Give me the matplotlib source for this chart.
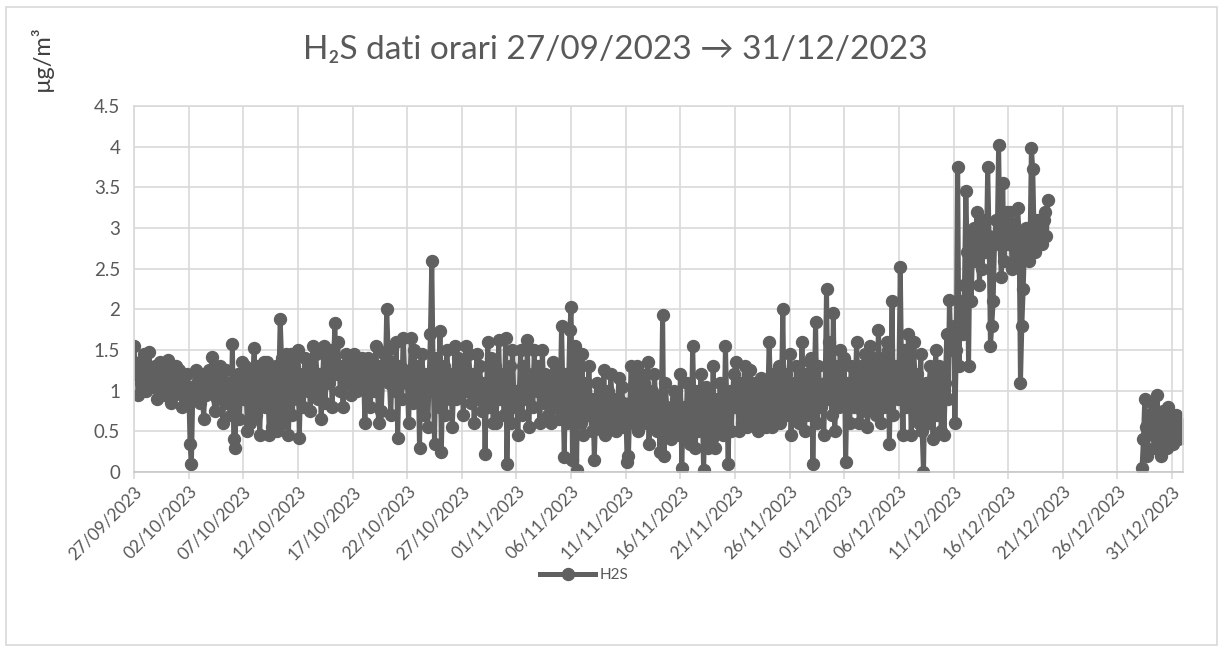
"""H2S hourly concentrations, 27/09/2023 - 31/12/2023."""

import numpy as np
import pandas as pd
import matplotlib

matplotlib.use("Agg")
import matplotlib.pyplot as plt
import matplotlib.dates as mdates
from matplotlib.patches import Rectangle

plt.rcParams["font.family"] = ["Lato", "DejaVu Sans"]

# readings in µg/m³, one row per day, every 3 hours (00, 03, ... 21)
h2s_sep = [
    [1.55, 1.20, 1.30, 0.95, 1.35, 1.10, 1.25, 1.45],  # 27/09
    [1.30, 1.00, 1.20, 1.48, 1.15, 1.05, 1.25, 1.30],
    [1.20, 0.90, 1.10, 1.35, 1.00, 1.25, 1.05, 0.95],
    [1.10, 1.38, 1.05, 0.85, 1.20, 0.95, 1.10, 1.30],
]
h2s_oct = [
    [1.00, 1.25, 1.05, 0.80, 1.15, 0.90, 1.05, 1.20],  # 01/10
    [1.05, 0.35, 0.10, 0.95, 0.90, 1.25, 1.10, 1.00],
    [0.85, 1.20, 1.00, 0.65, 1.10, 0.95, 1.05, 1.25],
    [1.00, 1.42, 1.10, 0.75, 1.20, 0.90, 1.05, 1.30],
    [1.15, 0.60, 1.00, 1.25, 0.85, 1.10, 0.95, 0.70],
    [1.57, 0.40, 0.30, 1.05, 1.20, 0.65, 1.00, 1.35],
    [0.90, 1.30, 1.05, 0.50, 1.10, 0.60, 1.00, 1.20],
    [1.52, 0.70, 1.10, 1.30, 0.45, 1.00, 1.15, 1.35],
    [0.80, 1.35, 1.05, 0.45, 1.20, 0.55, 1.00, 1.10],
    [1.30, 0.50, 1.10, 1.88, 1.40, 0.60, 1.15, 1.45],  # 10/10
    [1.10, 0.45, 1.00, 1.45, 0.70, 1.30, 1.15, 0.90],
    [1.50, 0.42, 1.10, 1.20, 0.80, 1.40, 1.15, 1.00],
    [1.30, 0.75, 1.15, 1.55, 1.00, 1.45, 1.20, 0.90],
    [1.20, 0.65, 1.10, 1.55, 0.85, 1.40, 1.25, 1.10],
    [1.50, 0.80, 1.25, 1.83, 1.20, 1.60, 1.30, 1.00],
    [1.30, 0.80, 1.20, 1.45, 1.10, 1.35, 1.15, 0.95],
    [1.20, 1.45, 1.25, 1.00, 1.35, 1.10, 1.30, 1.40],
    [1.25, 0.60, 1.15, 1.40, 1.10, 0.80, 1.20, 1.30],
    [1.00, 1.55, 1.20, 0.60, 1.30, 0.75, 1.15, 1.45],
    [1.20, 2.00, 1.50, 1.10, 0.70, 1.35, 1.20, 1.00],  # 20/10
    [1.60, 0.42, 1.15, 1.30, 0.90, 1.65, 1.25, 1.10],
    [1.20, 0.60, 1.10, 1.65, 0.85, 1.50, 1.20, 1.00],
    [1.30, 0.30, 1.05, 1.45, 0.70, 1.20, 1.00, 0.55],
    [1.10, 1.70, 2.60, 1.20, 0.35, 1.40, 1.05, 0.80],
    [1.73, 0.25, 1.10, 1.30, 0.70, 1.50, 1.15, 0.90],
    [1.20, 0.55, 1.05, 1.55, 0.90, 1.40, 1.15, 1.00],
    [1.30, 0.70, 1.10, 1.55, 1.00, 1.45, 1.20, 0.85],
    [1.20, 0.60, 1.05, 1.45, 0.90, 1.30, 1.10, 0.75],
    [1.10, 0.22, 0.95, 1.60, 0.80, 1.40, 1.00, 0.60],
    [1.30, 0.60, 1.00, 1.62, 0.90, 1.20, 1.05, 0.70],  # 30/10
    [1.65, 0.10, 0.95, 1.30, 0.60, 1.50, 1.00, 0.80],
]
h2s_nov = [
    [1.00, 0.45, 0.95, 1.50, 0.70, 1.30, 1.00, 0.90],  # 01/11
    [1.62, 0.55, 1.00, 1.20, 0.80, 1.50, 1.05, 1.00],
    [1.30, 0.60, 1.00, 1.50, 0.85, 1.20, 0.95, 0.70],
    [1.10, 0.60, 0.95, 1.35, 0.80, 1.25, 0.90, 0.65],
    [0.90, 1.80, 1.00, 0.18, 1.20, 0.60, 0.95, 1.75],
    [2.03, 0.15, 1.00, 1.55, 0.02, 1.45, 0.85, 0.60],
    [1.45, 0.45, 0.90, 1.10, 0.70, 1.30, 0.85, 0.50],
    [0.90, 0.15, 0.75, 1.10, 0.60, 1.00, 0.80, 0.50],
    [1.25, 0.45, 0.85, 1.00, 0.60, 1.20, 0.90, 0.70],
    [0.90, 0.50, 0.80, 1.15, 0.65, 1.05, 0.85, 0.55],  # 10/11
    [0.80, 0.12, 0.20, 0.85, 1.30, 0.60, 0.90, 1.10],
    [1.30, 0.50, 0.85, 1.20, 0.70, 1.10, 0.90, 0.60],
    [1.35, 0.35, 0.80, 1.00, 0.60, 1.20, 0.85, 0.50],
    [0.90, 0.25, 0.75, 1.93, 0.20, 1.10, 0.80, 0.50],
    [0.70, 0.40, 0.75, 1.00, 0.55, 0.90, 0.70, 0.45],
    [1.20, 0.05, 0.70, 0.80, 0.40, 1.10, 0.75, 0.35],
    [0.60, 1.55, 0.80, 0.30, 1.00, 0.50, 0.75, 1.20],
    [0.80, 0.02, 0.70, 1.05, 0.30, 0.90, 0.65, 0.40],
    [1.30, 0.30, 0.75, 0.90, 0.50, 1.10, 0.80, 0.45],
    [0.60, 1.55, 0.85, 0.10, 1.00, 0.50, 0.80, 1.20],  # 20/11
    [0.80, 1.35, 0.90, 0.50, 1.10, 0.60, 0.95, 1.30],
    [0.90, 0.55, 0.85, 1.25, 0.70, 1.10, 0.90, 0.60],
    [1.00, 0.50, 0.90, 1.15, 0.65, 1.05, 0.95, 0.55],
    [0.90, 1.60, 1.00, 0.55, 1.20, 0.70, 0.95, 1.10],
    [1.30, 0.60, 1.00, 2.00, 0.80, 1.20, 1.05, 0.70],
    [1.45, 0.45, 1.00, 1.10, 0.70, 1.30, 1.05, 0.60],
    [1.00, 1.60, 1.05, 0.50, 1.20, 0.70, 1.10, 1.35],
    [1.40, 0.10, 1.00, 1.85, 0.60, 1.30, 1.05, 0.80],
    [1.00, 0.45, 1.10, 2.25, 0.90, 1.60, 1.15, 0.70],
    [1.95, 0.50, 1.10, 1.30, 0.80, 1.50, 1.10, 0.90],  # 30/11
]
h2s_dec = [
    [1.40, 0.12, 1.00, 1.10, 0.60, 1.30, 1.05, 0.80],  # 01/12
    [1.00, 1.60, 1.10, 0.60, 1.30, 0.75, 1.10, 1.45],
    [1.20, 0.55, 1.05, 1.55, 0.80, 1.40, 1.10, 0.70],
    [1.10, 1.75, 1.15, 0.60, 1.40, 0.80, 1.15, 1.60],
    [1.50, 0.35, 1.10, 2.10, 0.70, 1.30, 1.10, 0.90],
    [1.20, 2.52, 1.15, 0.45, 1.50, 0.80, 1.15, 1.70],
    [1.30, 0.45, 1.05, 1.60, 0.70, 1.20, 1.00, 0.60],
    [1.45, 0.50, 0.00, 1.00, 1.10, 0.60, 1.05, 1.30],
    [1.00, 0.40, 1.05, 1.50, 0.70, 1.30, 1.10, 0.50],
    [1.20, 0.45, 1.10, 1.70, 0.90, 2.12, 1.60, 1.50],  # 10/12
    [1.80, 0.60, 1.50, 3.75, 1.30, 2.10, 1.90, 1.70],
    [2.30, 3.45, 2.70, 1.30, 2.80, 2.10, 2.90, 3.00],
    [2.60, 3.20, 2.80, 2.30, 3.00, 2.50, 2.90, 3.10],
    [2.70, 3.75, 2.90, 1.55, 1.80, 2.10, 2.80, 3.10],
    [2.90, 4.02, 2.80, 2.40, 3.55, 2.60, 2.95, 3.20],
    [2.80, 3.20, 2.90, 2.50, 3.05, 2.60, 2.85, 3.25],
    [2.90, 1.10, 1.80, 2.25, 2.80, 3.00, 2.70, 2.60],
    [2.80, 3.98, 3.72, 2.90, 2.70, 3.10, 2.85, 2.90],
    [3.00, 2.80, 3.10, 3.20, 2.90, 3.35],  # 19/12, data stops at 15:00
]
# analyser back online from 28/12 06:00
h2s_end = [0.05, 0.40, 0.90, 0.55, 0.20, 0.70,
           0.50, 0.85, 0.45, 0.30, 0.60, 0.95, 0.55, 0.40,
           0.20, 0.75, 0.50, 0.35, 0.30, 0.80, 0.55, 0.45,
           0.65, 0.35, 0.55, 0.70, 0.40, 0.60, 0.52, 0.42]

main_vals = [v for month in (h2s_sep, h2s_oct, h2s_nov, h2s_dec) for day in month for v in day]
main = pd.Series(main_vals,
                 index=pd.date_range("2023-09-27 00:00", periods=len(main_vals), freq="3h"))
tail = pd.Series(h2s_end,
                 index=pd.date_range("2023-12-28 06:00", periods=len(h2s_end), freq="3h"))
gap = pd.Series([np.nan], index=[pd.Timestamp("2023-12-24 00:00")])
h2s = pd.concat([main, gap, tail])

grey = "#606060"
text_grey = "#595959"
grid_grey = "#d9d9d9"

fig = plt.figure(figsize=(12.23, 6.5), dpi=100)
ax = fig.add_axes([0.1096, 0.2738, 0.8577, 0.5631])

ax.plot(h2s.index, h2s.values, color=grey, lw=3.6, marker="o", ms=8.6,
        markerfacecolor=grey, markeredgecolor=grey, label="H2S", solid_joinstyle="round")

ax.set_ylim(0, 4.5)
ax.set_yticks(np.arange(0, 4.51, 0.5))
ax.set_yticklabels(["0", "0.5", "1", "1.5", "2", "2.5", "3", "3.5", "4", "4.5"])
ax.set_xlim(pd.Timestamp("2023-09-27"), pd.Timestamp("2024-01-01"))
ticks = pd.date_range("2023-09-27", "2023-12-31", freq="5D")
ax.set_xticks(ticks)
ax.xaxis.set_major_formatter(mdates.DateFormatter("%d/%m/%Y"))

ax.grid(True, color=grid_grey, lw=1.2)
ax.set_axisbelow(True)
for side in ax.spines.values():
    side.set_color(grid_grey)
    side.set_linewidth(1.2)
ax.spines["bottom"].set_color("#c8c8c8")

ax.tick_params(axis="y", length=0, pad=10, labelsize=13.5, labelcolor=text_grey)
ax.tick_params(axis="x", length=5, width=1.2, color=grid_grey, pad=3,
               labelsize=12.5, labelcolor=text_grey)
for lab in ax.get_xticklabels():
    lab.set_rotation(45)
    lab.set_ha("right")
    lab.set_rotation_mode("anchor")

fig.text(0.503, 0.923, "H₂S dati orari 27/09/2023 → 31/12/2023", ha="center", va="center",
         fontsize=24, color=text_grey)
fig.text(0.034, 0.91, "µg/m³", rotation=90, ha="center", va="center",
         fontsize=17, color="#404040")

fig.legend(loc="center", bbox_to_anchor=(0.478, 0.115), frameon=False, fontsize=11,
           labelcolor=text_grey, handlelength=3.6, handletextpad=0.3)

fig.patches.append(Rectangle((0.005, 0.008), 0.99, 0.982, transform=fig.transFigure,
                             fill=False, edgecolor=grid_grey, lw=1.2))

fig.savefig("out.png", dpi=100)
